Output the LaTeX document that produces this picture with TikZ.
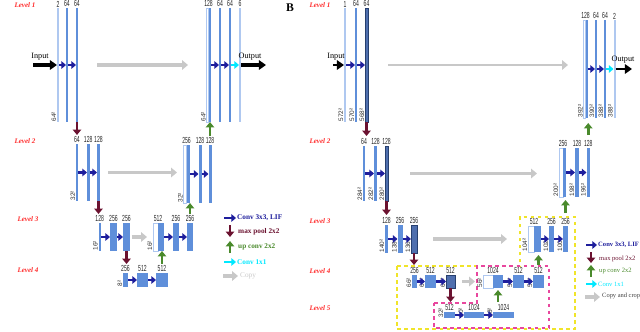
\documentclass[tikz,border=0pt]{standalone}
\usepackage{fontspec}
\setmainfont{Liberation Serif}
\setsansfont{Liberation Sans}
\usepackage{graphicx}
\usetikzlibrary{arrows.meta}

\definecolor{barL}{HTML}{AFC8F0}
\definecolor{barM}{HTML}{5F8FDA}
\definecolor{barD}{HTML}{4F6FAE}
\definecolor{barE}{HTML}{27406F}
\definecolor{convcol}{HTML}{1E1E9C}
\definecolor{poolcol}{HTML}{6B1230}
\definecolor{upcol}{HTML}{4A8A2C}
\definecolor{cycol}{HTML}{00E8FF}
\definecolor{cpcol}{HTML}{C8C8C8}
\definecolor{lvcol}{HTML}{FF2A2A}
\definecolor{cropY}{HTML}{F0E42A}
\definecolor{cropM}{HTML}{E8479E}

\newcommand\nb[1]{\scalebox{0.58}[1]{#1}}

\tikzset{
  sz/.style 2 args={minimum width=#1*0.03cm,minimum height=#2*0.03cm},
  bar/.style={draw=none,inner sep=0pt,outer sep=0pt,fill=barM},
  lite/.style={bar,fill=barL},
  dark/.style={bar,fill=barD,draw=barE,line width=0.5pt},
  cpy/.style={bar,fill=white,draw=barL,line width=0.5pt},
  num/.style={font=\sffamily\fontsize{7.5}{7.5}\selectfont,inner sep=0.6pt,text=black!85},
  sizel/.style={font=\sffamily\fontsize{5.5}{5.5}\selectfont,rotate=90,anchor=south west,inner sep=0.5pt,text=black!80},
  conv/.style={-{Triangle[length=4pt,width=6.5pt]},line width=2.5pt,draw=convcol},
  c11/.style={conv,draw=cycol},
  pool/.style={-{Triangle[length=4.5pt,width=7pt]},line width=2.5pt,draw=poolcol},
  upconv/.style={pool,draw=upcol},
  cp/.style={-{Triangle[length=5pt,width=8pt]},line width=3.2pt,draw=cpcol},
  io/.style={-{Triangle[length=6pt,width=8pt]},line width=2.6pt},
  lvl/.style={font=\bfseries\itshape\fontsize{6}{6}\selectfont,text=lvcol},
  lgd/.style={anchor=west,inner sep=0pt,font=\bfseries\fontsize{6.2}{6.2}\selectfont},
}

\begin{document}
\begin{tikzpicture}[x=0.03cm,y=-0.03cm]
\useasboundingbox (0,0) rectangle (640,331);

% panel A
\node[lvl] (lvA1) at (25,5) {Level 1};
\node[lvl] (lvA2) at (25,141) {Level 2};
\node[lvl] (lvA3) at (28,219) {Level 3};
\node[lvl] (lvA4) at (28,270) {Level 4};

\node[lite,sz={2}{114},label={[num]above:\nb{2}},label={[sizel]south west:64²}] (a1a) at (58,65) {};
\node[bar,sz={2}{114},label={[num]above:\nb{64}}] (a1b) at (67,65) {};
\node[bar,sz={2}{114},label={[num]above:\nb{64}}] (a1c) at (77,65) {};
\node[cpy,sz={2}{114},label={[num,anchor=south]north east:\nb{128}},label={[sizel]south west:64²}] (a1d) at (207.5,65) {};
\node[bar,sz={2.5}{114}] (a1e) at (209.75,65) {};
\node[bar,sz={2}{114},label={[num]above:\nb{64}}] (a1f) at (220,65) {};
\node[bar,sz={2}{114},label={[num]above:\nb{64}}] (a1g) at (230,65) {};
\node[lite,sz={2}{114},label={[num]above:\nb{6}}] (a1h) at (240,65) {};

\node[bar,sz={2}{57},label={[num]above:\nb{64}},label={[sizel]south west:32²}] (a2a) at (77,172.5) {};
\node[bar,sz={2.5}{57},label={[num]above:\nb{128}}] (a2b) at (88.25,172.5) {};
\node[bar,sz={3}{57},label={[num]above:\nb{128}}] (a2c) at (98.5,172.5) {};
\node[cpy,sz={3}{58},label={[num,anchor=south]north east:\nb{256}},label={[sizel]south west:32²}] (a2d) at (185,174) {};
\node[bar,sz={3.5}{58}] (a2e) at (188.25,174) {};
\node[bar,sz={3}{58},label={[num]above:\nb{128}}] (a2f) at (200,174) {};
\node[bar,sz={3}{58},label={[num]above:\nb{128}}] (a2g) at (210,174) {};

\node[bar,sz={2.5}{28},label={[num]above:\nb{128}},label={[sizel]south west:16²}] (a3a) at (99.75,237) {};
\node[bar,sz={7}{28},label={[num]above:\nb{256}}] (a3b) at (113.5,237) {};
\node[bar,sz={7}{28},label={[num]above:\nb{256}}] (a3c) at (126.5,237) {};
\node[cpy,sz={5}{28},label={[num,anchor=south]north east:\nb{512}},label={[sizel]south west:16²}] (a3d) at (155.5,237) {};
\node[bar,sz={6}{28}] (a3e) at (161,237) {};
\node[bar,sz={6}{28},label={[num]above:\nb{256}}] (a3f) at (176,237) {};
\node[bar,sz={6}{28},label={[num]above:\nb{256}}] (a3g) at (190,237) {};

\node[bar,sz={5}{14},label={[num]above:\nb{256}},label={[sizel]south west:8²}] (a4a) at (125.5,280) {};
\node[bar,sz={11}{14},label={[num]above:\nb{512}}] (a4b) at (142.5,280) {};
\node[bar,sz={12}{14},label={[num]above:\nb{512}}] (a4c) at (162,280) {};

\coordinate (inA) at (33,65);
\coordinate (outA) at (266,65);
\draw[io] (inA) -- (a1a.west);
\node[font=\fontsize{7}{7}\selectfont] (inAt) at (40,57) {Input};
\draw[io] (a1h.east) -- (outA);
\node[font=\fontsize{7}{7}\selectfont] (outAt) at (250,57) {Output};

\draw[conv] (a1a.east) -- (a1b.west);
\draw[conv] (a1b.east) -- (a1c.west);
\draw[conv] (a1e.east) -- (a1f.west);
\draw[conv] (a1f.east) -- (a1g.west);
\draw[c11] (a1g.east) -- (a1h.west);
\draw[conv] (a2a.east) -- (a2b.west);
\draw[conv] (a2b.east) -- (a2c.west);
\draw[conv] (a2e.east) -- (a2f.west);
\draw[conv] (a2f.east) -- (a2g.west);
\draw[conv] (a3a.east) -- (a3b.west);
\draw[conv] (a3b.east) -- (a3c.west);
\draw[conv] (a3e.east) -- (a3f.west);
\draw[conv] (a3f.east) -- (a3g.west);
\draw[conv] (a4a.east) -- (a4b.west);
\draw[conv] (a4b.east) -- (a4c.west);

\draw[cp,shorten <=0.57cm,shorten >=0.555cm] (a1c.east) -- (a1d.west);
\draw[cp,shorten <=0.24cm,shorten >=0.195cm] (a2c.east) -- (a2c.east -| a2d.west);
\draw[cp,shorten <=0.045cm,shorten >=0.18cm] (a3c.east) -- (a3d.west);

\draw[pool,shorten >=0.27cm] (a1c.south) -- (a1c.south |- a2a.north);
\draw[pool,shorten >=0.27cm] (a2c.south) -- (a2c.south |- a3a.north);
\draw[pool,shorten >=0.27cm] (a3c.south) -- (a3c.south |- a4a.north);
\draw[upconv,shorten <=0.27cm] (a4c.north) -- (a4c.north |- a3e.south);
\draw[upconv,shorten <=0.27cm] (a3g.north) -- (a3g.north |- a2e.south);
\draw[upconv,shorten <=0.27cm] (a2g.north) -- (a2g.north |- a1e.south);

% legend A
\draw[conv] (224,218) -- (236,218);
\node[lgd,text=convcol] (lgA1) at (237,218) {Conv 3x3, LIF};
\draw[pool] (230,225) -- (230,237);
\node[lgd,text=poolcol] (lgA2) at (238,232) {max pool 2x2};
\draw[upconv] (230,253) -- (230,241);
\node[lgd,text=upcol] (lgA3) at (238,247) {up conv 2x2};
\draw[c11] (224,262) -- (236,262);
\node[lgd,text=cycol] (lgA4) at (237,262) {Conv 1x1};
\draw[cp] (223,276) -- (238,276);
\node[lgd,text=cpcol,font=\fontsize{6.2}{6.2}\selectfont] (lgA5) at (240,276) {Copy};

% panel B
\node[font=\bfseries\fontsize{10}{10}\selectfont] (tagB) at (290,8) {B};
\node[lvl] (lvB1) at (320,5) {Level 1};
\node[lvl] (lvB2) at (320,141) {Level 2};
\node[lvl] (lvB3) at (320,221) {Level 3};
\node[lvl] (lvB4) at (320,271) {Level 4};
\node[lvl] (lvB5) at (320,308) {Level 5};

\draw[cropY,dashed,line width=0.9pt] (397,266) -- (520,266) -- (520,217) -- (575,217) -- (575,329) -- (397,329) -- cycle;
\draw[cropM,dashed,line width=0.9pt] (434,303) -- (477,303) -- (477,266) -- (549,266) -- (549,328) -- (434,328) -- cycle;

\node[lite,sz={2}{114},label={[num]above:\nb{1}},label={[sizel]south west:572²}] (b1a) at (345,65) {};
\node[bar,sz={2}{114},label={[num]above:\nb{64}},label={[sizel]south west:570²}] (b1b) at (356,65) {};
\node[dark,sz={3}{114},label={[num]above:\nb{64}},label={[sizel]south west:568²}] (b1c) at (366.5,65) {};
\node[cpy,sz={2}{98},label={[num,anchor=south]north east:\nb{128}},label={[sizel]south west:392²}] (b1d) at (584.5,69) {};
\node[bar,sz={2}{98}] (b1e) at (586.5,69) {};
\node[bar,sz={2}{98},label={[num]above:\nb{64}},label={[sizel]south west:390²}] (b1f) at (596,69) {};
\node[bar,sz={2}{98},label={[num]above:\nb{64}},label={[sizel]south west:388²}] (b1g) at (605,69) {};
\node[lite,sz={2}{98},label={[num]above:\nb{2}},label={[sizel]south west:388²}] (b1h) at (614.5,69) {};

\node[bar,sz={2}{55},label={[num]above:\nb{64}},label={[sizel]south west:284²}] (b2a) at (364,173.5) {};
\node[bar,sz={3}{55},label={[num]above:\nb{128}},label={[sizel]south west:282²}] (b2b) at (375.5,173.5) {};
\node[dark,sz={3}{55},label={[num]above:\nb{128}},label={[sizel]south west:280²}] (b2c) at (386.5,173.5) {};
\node[cpy,sz={4}{49},label={[num,anchor=south]north east:\nb{256}},label={[sizel]south west:200²}] (b2d) at (561,172.5) {};
\node[bar,sz={3}{49}] (b2e) at (564.5,172.5) {};
\node[bar,sz={4}{49},label={[num]above:\nb{128}},label={[sizel]south west:198²}] (b2f) at (577,172.5) {};
\node[bar,sz={3.5}{49},label={[num]above:\nb{128}},label={[sizel]south west:196²}] (b2g) at (588.25,172.5) {};

\node[bar,sz={3}{28},label={[num]above:\nb{128}},label={[sizel]south west:140²}] (b3a) at (386.5,239) {};
\node[bar,sz={5}{28},label={[num]above:\nb{256}},label={[sizel]south west:138²}] (b3b) at (400,239) {};
\node[dark,sz={6}{28},label={[num]above:\nb{256}},label={[sizel]south west:136²}] (b3c) at (414,239) {};
\node[cpy,sz={6}{26},label={[num,anchor=south]north east:\nb{512}},label={[sizel]south west:104²}] (b3d) at (531,239) {};
\node[bar,sz={7}{26}] (b3e) at (537.5,239) {};
\node[bar,sz={5}{26},label={[num]above:\nb{256}},label={[sizel]south west:102²}] (b3f) at (551.5,239) {};
\node[bar,sz={5}{26},label={[num]above:\nb{256}},label={[sizel]south west:100²}] (b3g) at (565.5,239) {};

\node[bar,sz={5}{13},label={[num]above:\nb{256}},label={[sizel]south west:66²}] (b4a) at (414.5,281.5) {};
\node[bar,sz={11}{13},label={[num]above:\nb{512}},label={[sizel]south west:64²}] (b4b) at (430.5,281.5) {};
\node[dark,sz={9}{13},label={[num]above:\nb{512}},label={[sizel]south west:62²}] (b4c) at (450.5,281.5) {};
\node[cpy,sz={10}{13},label={[num,anchor=south]north east:\nb{1024}},label={[sizel]south west:56²}] (b4d) at (488,281.5) {};
\node[bar,sz={10}{13}] (b4e) at (498,281.5) {};
\node[bar,sz={11}{13},label={[num]above:\nb{512}},label={[sizel]south west:54²}] (b4f) at (518.5,281.5) {};
\node[bar,sz={11}{13},label={[num]above:\nb{512}},label={[sizel]south west:52²}] (b4g) at (538.5,281.5) {};

\node[bar,sz={11}{6},label={[num]above:\nb{512}},label={[sizel]south west:32²}] (b5a) at (449.5,315) {};
\node[bar,sz={20}{6},label={[num]above:\nb{1024}},label={[sizel]south west:30²}] (b5b) at (474,315) {};
\node[bar,sz={21}{6},label={[num]above:\nb{1024}},label={[sizel]south west:28²}] (b5c) at (503.5,315) {};

\coordinate (inB) at (333,65);
\coordinate (outB) at (632,69);
\draw[io,line width=2.2pt] (inB) -- (b1a.west);
\node[font=\fontsize{7}{7}\selectfont] (inBt) at (336,57) {Input};
\draw[io,line width=2.2pt] (b1h.east) -- (outB);
\node[font=\fontsize{7}{7}\selectfont] (outBt) at (623,60) {Output};

\draw[conv] (b1a.east) -- (b1b.west);
\draw[conv] (b1b.east) -- (b1c.west);
\draw[conv] (b1e.east) -- (b1f.west);
\draw[conv] (b1f.east) -- (b1g.west);
\draw[c11] (b1g.east) -- (b1h.west);
\draw[conv] (b2a.east) -- (b2b.west);
\draw[conv] (b2b.east) -- (b2c.west);
\draw[conv] (b2e.east) -- (b2f.west);
\draw[conv] (b2f.east) -- (b2g.west);
\draw[conv] (b3a.east) -- (b3b.west);
\draw[conv] (b3b.east) -- (b3c.west);
\draw[conv] (b3e.east) -- (b3f.west);
\draw[conv] (b3f.east) -- (b3g.west);
\draw[conv] (b4a.east) -- (b4b.west);
\draw[conv] (b4b.east) -- (b4c.west);
\draw[conv] (b4e.east) -- (b4f.west);
\draw[conv] (b4f.east) -- (b4g.west);
\draw[conv] (b5a.east) -- (b5b.west);
\draw[conv] (b5b.east) -- (b5c.west);

\draw[cp,line width=1.8pt,shorten <=0.6cm,shorten >=0.465cm] (b1c.east) -- (b1c.east -| b1d.west);
\draw[cp,line width=1.8pt,shorten <=0.66cm,shorten >=0.66cm] (b2c.east) -- (b2c.east -| b2d.west);
\draw[cp,line width=2.6pt,shorten <=0.48cm,shorten >=0.63cm] (b3c.east) -- (b3d.west);
\draw[cp,line width=2.6pt,shorten <=0.21cm,shorten >=0.24cm] (b4c.east) -- (b4d.west);

\draw[pool,shorten >=0.3cm] (b1c.south) -- (b1c.south |- b2a.north);
\draw[pool,shorten >=0.3cm] (b2c.south) -- (b2c.south |- b3a.north);
\draw[pool,shorten >=0.3cm] (b3c.south) -- (b3c.south |- b4a.north);
\draw[pool,shorten >=0.3cm] (b4c.south) -- (b4c.south |- b5a.north);
\draw[upconv,shorten <=0.3cm,shorten >=0.06cm] (b4e.south |- b5c.north) -- (b4e.south);
\draw[upconv,shorten <=0.3cm,shorten >=0.09cm] (b4g.north) -- (b4g.north |- b3e.south);
\draw[upconv,shorten <=0.39cm,shorten >=0.09cm] (b3g.north) -- (b3g.north |- b2e.south);
\draw[upconv,shorten <=0.39cm,shorten >=0.15cm] (b2g.north) -- (b2g.north |- b1e.south);

% legend B
\draw[conv] (586,245) -- (597,245);
\node[lgd,text=convcol,font=\bfseries\fontsize{5.6}{5.6}\selectfont] (lgB1) at (598,245) {Conv 3x3, LIF};
\draw[pool] (591,252) -- (591,263);
\node[lgd,text=poolcol,font=\fontsize{5.6}{5.6}\selectfont] (lgB2) at (599,259) {max pool 2x2};
\draw[upconv] (591,277) -- (591,265);
\node[lgd,text=upcol,font=\fontsize{5.6}{5.6}\selectfont] (lgB3) at (599,271) {up conv 2x2};
\draw[c11] (586,284) -- (597,284);
\node[lgd,text=cycol,font=\fontsize{5.6}{5.6}\selectfont] (lgB4) at (598,284) {Conv 1x1};
\draw[cp,line width=2.6pt] (585,297) -- (600,297);
\node[lgd,text=black!75,font=\fontsize{5.5}{5.5}\selectfont] (lgB5) at (602,296) {Copy and crop};
\end{tikzpicture}
\end{document}
